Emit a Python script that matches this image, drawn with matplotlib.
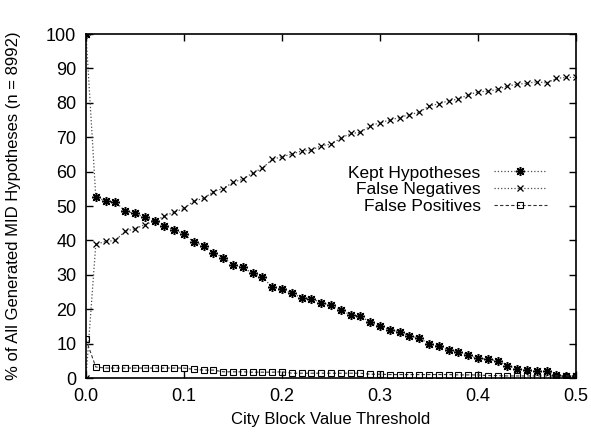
import matplotlib
matplotlib.use("Agg")
import matplotlib.pyplot as plt
import numpy as np

plt.rcParams["font.family"] = ["Liberation Sans", "DejaVu Sans"]

# threshold values 0.00 .. 0.50 in steps of 0.01
thresholds = [round(i * 0.01, 2) for i in range(51)]

kept = [100.0, 52.7, 51.4, 51.2, 48.5, 47.9, 46.7, 45.6, 44.3, 43.0,
        41.9, 39.5, 38.5, 36.4, 35.0, 33.0, 32.2, 30.4, 29.3, 26.5,
        25.9, 24.6, 23.4, 23.1, 21.9, 21.2, 19.8, 18.3, 18.0, 16.2,
        15.0, 14.1, 13.5, 12.2, 11.7, 9.9, 9.4, 8.1, 7.7, 6.6,
        5.7, 5.5, 5.0, 3.6, 2.7, 2.2, 1.9, 1.9, 1.0, 0.5,
        0.5]

false_neg = [0.0, 38.9, 39.7, 40.0, 42.7, 43.4, 44.6, 45.6, 47.1, 48.2,
             49.3, 51.5, 52.2, 54.2, 55.1, 56.9, 57.8, 59.6, 61.0, 63.6,
             64.3, 65.1, 66.0, 66.3, 67.5, 68.0, 69.7, 71.1, 71.4, 73.3,
             74.2, 75.0, 75.7, 76.6, 77.2, 79.1, 79.7, 80.6, 81.1, 82.3,
             83.2, 83.4, 83.9, 84.9, 85.4, 85.7, 86.1, 85.8, 87.1, 87.4,
             87.4]

false_pos = [11.2, 3.2, 2.9, 2.9, 2.9, 2.9, 2.9, 2.9, 2.9, 2.9,
             2.9, 2.5, 2.3, 2.3, 1.8, 1.8, 1.8, 1.7, 1.7, 1.7,
             1.8, 1.4, 1.4, 1.4, 1.4, 1.4, 1.4, 1.4, 1.4, 1.1,
             1.1, 1.0, 1.0, 1.0, 1.0, 1.0, 1.0, 1.0, 0.9, 0.9,
             0.9, 0.7, 0.7, 0.6, 0.6, 0.6, 0.6, 0.6, 0.6, 0.6,
             0.6]

fig = plt.figure(figsize=(5.91, 4.34), dpi=100)
ax = fig.add_axes([0.1455, 0.129, 0.829, 0.7925])

ax.plot(thresholds, kept, linestyle=":", color="0.3", linewidth=0.9,
        marker=(8, 2, 0), markersize=6.5, markeredgecolor="black",
        markeredgewidth=1.1, label="Kept Hypotheses")
ax.plot(thresholds, false_neg, linestyle=":", color="0.3", linewidth=0.9,
        marker="x", markersize=5, markeredgecolor="black",
        markeredgewidth=0.9, label="False Negatives")
ax.plot(thresholds, false_pos, linestyle=(0, (3, 2)), color="0.2", linewidth=0.8,
        marker="s", markersize=4.5, markerfacecolor="none", markeredgecolor="black",
        markeredgewidth=0.8, label="False Positives")

ax.set_xlim(0, 0.5)
ax.set_ylim(0, 100)
ax.set_xticks([0.0, 0.1, 0.2, 0.3, 0.4, 0.5])
ax.set_xticklabels(["0.0", "0.1", "0.2", "0.3", "0.4", "0.5"])
ax.set_yticks(range(0, 101, 10))
ax.tick_params(direction="in", top=True, right=True, length=5, width=1,
               labelsize=13, pad=7)
for s in ax.spines.values():
    s.set_linewidth(1.2)

ax.set_xlabel("City Block Value Threshold", fontsize=12, labelpad=5)
ax.set_ylabel("% of All Generated MID Hypotheses (n = 8992)", fontsize=12, labelpad=18)

ax.legend(loc="center right", bbox_to_anchor=(0.94, 0.547), frameon=False,
          markerfirst=False, fontsize=12.5, handlelength=3.0, handletextpad=0.8,
          labelspacing=0.1, borderpad=0, borderaxespad=0)

fig.savefig("out.png", dpi=100)
